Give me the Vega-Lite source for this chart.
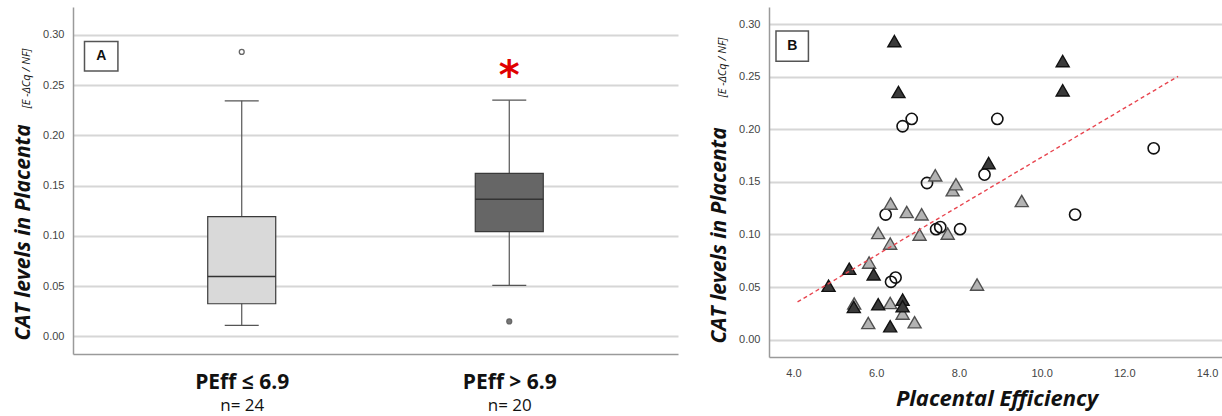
{
  "$schema": "https://vega.github.io/schema/vega-lite/v6.json",
  "background": "white",
  "padding": {"left": 11, "top": 7, "right": 0, "bottom": 3},
  "spacing": 29,
  "config": {"view": {"stroke": null}},
  "datasets": {
    "boxes": [
      {"g": 1, "lower": 0.0109, "q1": 0.0325, "median": 0.0596, "q3": 0.1192, "upper": 0.2344},
      {"g": 2, "lower": 0.0507, "q1": 0.1043, "median": 0.1365, "q3": 0.1623, "upper": 0.2351}
    ],
    "outliers": [
      {"g": 1, "v": 0.2831},
      {"g": 2, "v": 0.0149}
    ],
    "scatter": [
      {"grp": "open", "pe": 6.64, "cat": 0.203},
      {"grp": "open", "pe": 6.86, "cat": 0.210},
      {"grp": "open", "pe": 8.93, "cat": 0.210},
      {"grp": "open", "pe": 12.71, "cat": 0.182},
      {"grp": "open", "pe": 7.23, "cat": 0.149},
      {"grp": "open", "pe": 8.62, "cat": 0.157},
      {"grp": "open", "pe": 10.81, "cat": 0.119},
      {"grp": "open", "pe": 6.23, "cat": 0.119},
      {"grp": "open", "pe": 7.45, "cat": 0.105},
      {"grp": "open", "pe": 7.55, "cat": 0.107},
      {"grp": "open", "pe": 8.03, "cat": 0.105},
      {"grp": "open", "pe": 6.36, "cat": 0.055},
      {"grp": "open", "pe": 6.47, "cat": 0.059},
      {"grp": "grey", "pe": 6.35, "cat": 0.1294},
      {"grp": "grey", "pe": 6.74, "cat": 0.1214},
      {"grp": "grey", "pe": 7.10, "cat": 0.1192},
      {"grp": "grey", "pe": 7.43, "cat": 0.1563},
      {"grp": "grey", "pe": 7.85, "cat": 0.1421},
      {"grp": "grey", "pe": 7.93, "cat": 0.1478},
      {"grp": "grey", "pe": 6.05, "cat": 0.1014},
      {"grp": "grey", "pe": 6.34, "cat": 0.0913},
      {"grp": "grey", "pe": 7.05, "cat": 0.0999},
      {"grp": "grey", "pe": 7.73, "cat": 0.1009},
      {"grp": "grey", "pe": 5.83, "cat": 0.0733},
      {"grp": "grey", "pe": 8.44, "cat": 0.0523},
      {"grp": "grey", "pe": 9.52, "cat": 0.1319},
      {"grp": "grey", "pe": 5.47, "cat": 0.0343},
      {"grp": "grey", "pe": 6.34, "cat": 0.0348},
      {"grp": "grey", "pe": 6.64, "cat": 0.0247},
      {"grp": "grey", "pe": 5.81, "cat": 0.0158},
      {"grp": "grey", "pe": 6.93, "cat": 0.0165},
      {"grp": "dark", "pe": 6.44, "cat": 0.284},
      {"grp": "dark", "pe": 6.54, "cat": 0.2356},
      {"grp": "dark", "pe": 10.51, "cat": 0.265},
      {"grp": "dark", "pe": 10.51, "cat": 0.2372},
      {"grp": "dark", "pe": 8.72, "cat": 0.168},
      {"grp": "dark", "pe": 4.85, "cat": 0.0512},
      {"grp": "dark", "pe": 5.35, "cat": 0.0674},
      {"grp": "dark", "pe": 5.94, "cat": 0.0621},
      {"grp": "dark", "pe": 5.46, "cat": 0.031},
      {"grp": "dark", "pe": 6.05, "cat": 0.0336},
      {"grp": "dark", "pe": 6.34, "cat": 0.0127},
      {"grp": "dark", "pe": 6.64, "cat": 0.038},
      {"grp": "dark", "pe": 6.64, "cat": 0.0317}
    ],
    "fit": [
      {"pe": 4.1, "cat": 0.0358},
      {"pe": 13.3, "cat": 0.2505}
    ]
  },
  "hconcat": [
    {
      "width": 605,
      "height": 347,
      "resolve": {"axis": {"x": "independent", "y": "independent"}},
      "layer": [
        {
          "data": {"name": "boxes"},
          "mark": {"type": "rule", "color": "#555555", "strokeWidth": 1.2},
          "encoding": {
            "x": {
              "field": "g", "type": "quantitative",
              "scale": {"domain": [0.388, 2.612], "nice": false, "zero": false},
              "axis": {
                "orient": "bottom",
                "values": [1, 2], "title": null, "grid": false, "ticks": false,
                "domain": true, "domainColor": "#9a9a9a", "domainWidth": 1.5,
                "labelExpr": "datum.value == 1 ? 'PEff ≤ 6.9' : 'PEff > 6.9'",
                "labelFont": "Open Sans", "labelFontWeight": "bold", "labelFontSize": 21,
                "labelColor": "#111111", "labelBaseline": "alphabetic", "labelPadding": 34,
                "labelFlush": false, "labelOverlap": false
              }
            },
            "y": {
              "field": "lower", "type": "quantitative",
              "scale": {"domain": [-0.0175, 0.3278], "nice": false, "zero": false},
              "axis": {
                "orient": "left",
                "values": [0, 0.05, 0.1, 0.15, 0.2, 0.25, 0.3], "format": ".2f",
                "grid": true, "gridColor": "#d6d6d6", "gridWidth": 2,
                "domain": true, "domainColor": "#9a9a9a", "domainWidth": 1.5, "ticks": false,
                "labelFont": "Liberation Sans", "labelFontSize": 11, "labelColor": "#444444", "labelPadding": 9,
                "title": "CAT levels in Placenta", "titleFont": "Open Sans", "titleFontSize": 21,
                "titleFontStyle": "italic", "titleFontWeight": "bold", "titleColor": "#111111",
                "titleAngle": 270, "titleAlign": "left", "titleBaseline": "alphabetic",
                "titleX": -44, "titleY": 333
              }
            },
            "y2": {"field": "upper"}
          }
        },
        {
          "data": {"name": "boxes"},
          "mark": {"type": "tick", "orient": "horizontal", "size": 34, "thickness": 1.3, "color": "#555555", "opacity": 1},
          "encoding": {
            "x": {
              "field": "g", "type": "quantitative",
              "axis": {
                "orient": "bottom",
                "values": [1, 2], "title": null, "grid": false, "ticks": false, "domain": false,
                "labelExpr": "datum.value == 1 ? 'n= 24' : 'n= 20'",
                "labelFont": "Open Sans", "labelFontSize": 17, "labelColor": "#111111",
                "labelBaseline": "alphabetic", "labelPadding": 56, "labelFlush": false, "labelOverlap": false
              }
            },
            "y": {
              "field": "lower", "type": "quantitative",
              "axis": {
                "orient": "left",
                "labels": false, "ticks": false, "domain": false, "grid": false,
                "title": "[E -ΔCq / NF]", "titleFont": "Open Sans", "titleFontSize": 11,
                "titleFontStyle": "italic", "titleFontWeight": "normal", "titleColor": "#111111",
                "titleAngle": 270, "titleAlign": "left", "titleBaseline": "alphabetic",
                "titleX": -44, "titleY": 101
              }
            }
          }
        },
        {
          "data": {"name": "boxes"},
          "mark": {"type": "tick", "orient": "horizontal", "size": 34, "thickness": 1.3, "color": "#555555", "opacity": 1},
          "encoding": {
            "x": {"field": "g", "type": "quantitative", "axis": null},
            "y": {"field": "upper", "type": "quantitative", "axis": null}
          }
        },
        {
          "data": {"name": "boxes"},
          "mark": {"type": "bar", "size": 68, "stroke": "#3a3a3a", "strokeWidth": 1.2},
          "encoding": {
            "x": {"field": "g", "type": "quantitative", "axis": null},
            "y": {"field": "q1", "type": "quantitative", "axis": null},
            "y2": {"field": "q3"},
            "fill": {"condition": {"test": "datum.g == 1", "value": "#d9d9d9"}, "value": "#666666"}
          }
        },
        {
          "data": {"name": "boxes"},
          "mark": {"type": "tick", "orient": "horizontal", "size": 68, "thickness": 1.5, "color": "#333333", "opacity": 1},
          "encoding": {
            "x": {"field": "g", "type": "quantitative", "axis": null},
            "y": {"field": "median", "type": "quantitative", "axis": null}
          }
        },
        {
          "data": {"name": "outliers"},
          "mark": {"type": "point", "shape": "circle", "filled": true, "size": 24, "stroke": "#666666", "strokeWidth": 1.3, "opacity": 1},
          "encoding": {
            "x": {"field": "g", "type": "quantitative", "axis": null},
            "y": {"field": "v", "type": "quantitative", "axis": null},
            "fill": {"condition": {"test": "datum.g == 1", "value": "#ffffff"}, "value": "#777777"}
          }
        },
        {
          "data": {"values": [{"sig": "*"}]},
          "mark": {"type": "text", "font": "DejaVu Sans", "fontWeight": "bold", "fontSize": 40, "color": "#e00000", "baseline": "alphabetic", "dy": 22},
          "encoding": {
            "x": {"datum": 2, "type": "quantitative", "axis": null},
            "y": {"datum": 0.2681, "type": "quantitative", "axis": null},
            "text": {"field": "sig"}
          }
        },
        {
          "data": {"values": [{"lab": "A"}]},
          "mark": {"type": "rect", "fill": "#ffffff", "stroke": "#555555", "strokeWidth": 1.5},
          "encoding": {
            "x": {"datum": 0.4123, "type": "quantitative", "axis": null},
            "x2": {"datum": 0.5372},
            "y": {"datum": 0.2934, "type": "quantitative", "axis": null},
            "y2": {"datum": 0.2642}
          }
        },
        {
          "data": {"values": [{"lab": "A"}]},
          "mark": {"type": "text", "font": "Liberation Sans", "fontWeight": "bold", "fontSize": 14, "color": "#111111", "baseline": "middle", "align": "center"},
          "encoding": {
            "x": {"datum": 0.4748, "type": "quantitative", "axis": null},
            "y": {"datum": 0.2788, "type": "quantitative", "axis": null},
            "text": {"field": "lab"}
          }
        }
      ]
    },
    {
      "width": 455,
      "height": 350,
      "resolve": {"axis": {"x": "independent", "y": "independent"}},
      "layer": [
        {
          "data": {"name": "scatter"},
          "transform": [{"filter": "datum.grp == 'open'"}],
          "mark": {"type": "point", "shape": "circle", "size": 125, "fill": "transparent", "stroke": "#111111", "strokeWidth": 1.6, "opacity": 1},
          "encoding": {
            "x": {
              "field": "pe", "type": "quantitative",
              "scale": {"domain": [3.41, 14.41], "nice": false, "zero": false},
              "axis": {
                "orient": "bottom",
                "values": [4, 6, 8, 10, 12, 14], "format": ".1f", "grid": false, "ticks": false,
                "domain": true, "domainColor": "#9a9a9a", "domainWidth": 1.5,
                "labelFont": "Liberation Sans", "labelFontSize": 11, "labelColor": "#444444", "labelPadding": 10,
                "labelFlush": false,
                "title": "Placental Efficiency", "titleFont": "Open Sans", "titleFontSize": 22,
                "titleFontStyle": "italic", "titleFontWeight": "bold", "titleColor": "#111111",
                "titleBaseline": "alphabetic", "titleY": 48
              }
            },
            "y": {
              "field": "cat", "type": "quantitative",
              "scale": {"domain": [-0.0166, 0.3165], "nice": false, "zero": false},
              "axis": {
                "orient": "left",
                "values": [0, 0.05, 0.1, 0.15, 0.2, 0.25, 0.3], "format": ".2f",
                "grid": true, "gridColor": "#d6d6d6", "gridWidth": 2,
                "domain": true, "domainColor": "#9a9a9a", "domainWidth": 1.5, "ticks": false,
                "labelFont": "Liberation Sans", "labelFontSize": 11, "labelColor": "#444444", "labelPadding": 9,
                "title": "CAT levels in Placenta", "titleFont": "Open Sans", "titleFontSize": 21,
                "titleFontStyle": "italic", "titleFontWeight": "bold", "titleColor": "#111111",
                "titleAngle": 270, "titleAlign": "left", "titleBaseline": "alphabetic",
                "titleX": -44, "titleY": 336
              }
            }
          }
        },
        {
          "data": {"name": "scatter"},
          "transform": [{"filter": "datum.grp == 'grey'"}],
          "mark": {"type": "point", "shape": "triangle-up", "size": 170, "filled": true, "fill": "#b3b3b3", "stroke": "#505050", "strokeWidth": 1.4, "opacity": 1},
          "encoding": {
            "x": {"field": "pe", "type": "quantitative", "axis": null},
            "y": {
              "field": "cat", "type": "quantitative",
              "axis": {
                "orient": "left",
                "labels": false, "ticks": false, "domain": false, "grid": false,
                "title": "[E -ΔCq / NF]", "titleFont": "Open Sans", "titleFontSize": 11,
                "titleFontStyle": "italic", "titleFontWeight": "normal", "titleColor": "#111111",
                "titleAngle": 270, "titleAlign": "left", "titleBaseline": "alphabetic",
                "titleX": -44, "titleY": 90
              }
            }
          }
        },
        {
          "data": {"name": "scatter"},
          "transform": [{"filter": "datum.grp == 'dark'"}],
          "mark": {"type": "point", "shape": "triangle-up", "size": 170, "filled": true, "fill": "#3a3a3a", "stroke": "#111111", "strokeWidth": 1.4, "opacity": 1},
          "encoding": {
            "x": {"field": "pe", "type": "quantitative", "axis": null},
            "y": {"field": "cat", "type": "quantitative", "axis": null}
          }
        },
        {
          "data": {"name": "fit"},
          "mark": {"type": "line", "color": "#e8454f", "strokeWidth": 1.4, "strokeDash": [4, 3]},
          "encoding": {
            "x": {"field": "pe", "type": "quantitative", "axis": null},
            "y": {"field": "cat", "type": "quantitative", "axis": null}
          }
        },
        {
          "data": {"values": [{"lab": "B"}]},
          "mark": {"type": "rect", "fill": "#ffffff", "stroke": "#555555", "strokeWidth": 1.5},
          "encoding": {
            "x": {"datum": 3.579, "type": "quantitative", "axis": null},
            "x2": {"datum": 4.363},
            "y": {"datum": 0.2936, "type": "quantitative", "axis": null},
            "y2": {"datum": 0.2648}
          }
        },
        {
          "data": {"values": [{"lab": "B"}]},
          "mark": {"type": "text", "font": "Liberation Sans", "fontWeight": "bold", "fontSize": 14, "color": "#111111", "baseline": "middle", "align": "center"},
          "encoding": {
            "x": {"datum": 3.971, "type": "quantitative", "axis": null},
            "y": {"datum": 0.2792, "type": "quantitative", "axis": null},
            "text": {"field": "lab"}
          }
        }
      ]
    }
  ]
}
